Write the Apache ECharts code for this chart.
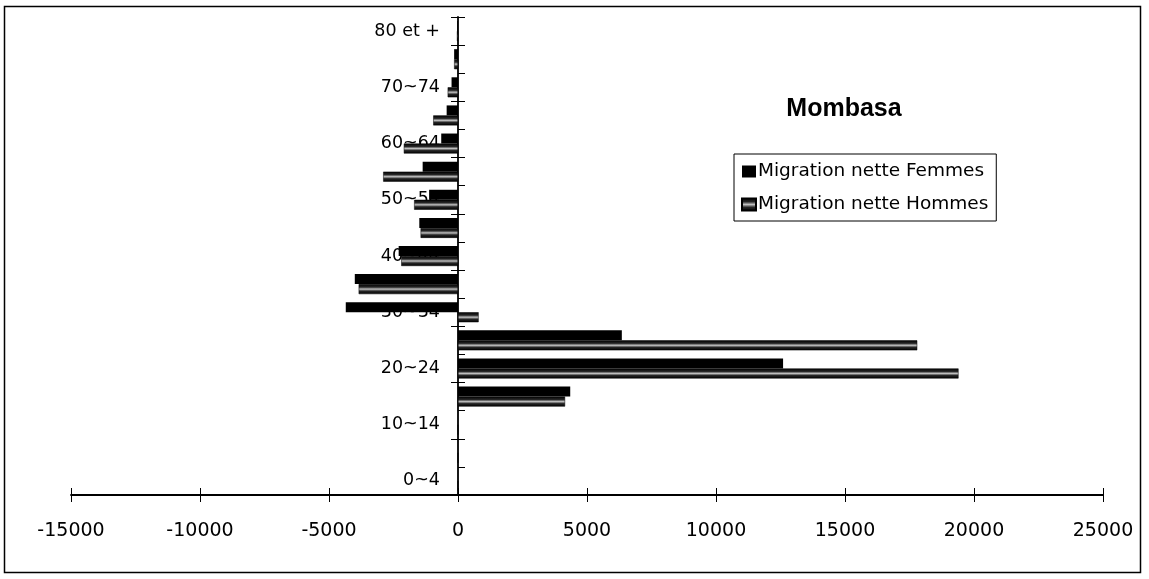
<!DOCTYPE html>
<html>
<head>
<meta charset="utf-8">
<script src="https://cdn.jsdelivr.net/npm/echarts@6/dist/echarts.min.js"></script>
<style>
  html, body { margin: 0; padding: 0; background: #fff; }
  #chart { width: 1149px; height: 579px; }
</style>
</head>
<body>
<div id="chart"></div>
<script>
// Age groups, bottom to top
const categories = ['0~4', '5~9', '10~14', '15~19', '20~24', '25~29', '30~34', '35~39',
  '40~44', '45~49', '50~54', '55~59', '60~64', '65~69', '70~74', '75~79', '80 et +'];
// Net migration by age group
const femmes = [0, 0, 0, 4350, 12600, 6350, -4350, -4000, -2300, -1500, -1120, -1370, -650, -440, -250, -150, -30];
const hommes = [0, 0, 0, 4150, 19400, 17800, 800, -3850, -2200, -1450, -1700, -2900, -2100, -960, -400, -150, -40];
const xTicks = { min: -15000, max: 25000, interval: 5000 };
const titleText = 'Mombasa';
const seriesNames = ['Migration nette Femmes', 'Migration nette Hommes'];

const FONT = 'DejaVu Sans';
const hommesFill = new echarts.graphic.LinearGradient(0, 0, 0, 1, [
  { offset: 0, color: '#000' },
  { offset: 0.3, color: '#262626' },
  { offset: 0.5, color: '#c0c0c0' },
  { offset: 0.7, color: '#262626' },
  { offset: 1, color: '#000' }
]);

// plot area in pixels
const G = { left: 71, right: 46, top: 17, bottom: 84 };
const plotW = 1149 - G.left - G.right;
const gridH = 579 - G.top - G.bottom;
// horizontal pixel distance from each side of the plot to the value 0
const zeroFromLeft = (0 - xTicks.min) / (xTicks.max - xTicks.min) * plotW;
const zeroFromRight = plotW - zeroFromLeft;

const chart = echarts.init(document.getElementById('chart'), null, { renderer: 'canvas' });

chart.setOption({
  backgroundColor: '#fff',
  animation: false,
  title: {
    text: titleText,
    left: 839, top: 92, textAlign: 'center',
    textStyle: { fontFamily: 'Liberation Sans', fontWeight: 'bold', fontSize: 25, color: '#000' }
  },
  legend: {
    orient: 'vertical',
    left: 734, top: 154,
    padding: [8, 8, 7, 7],
    itemGap: 14,
    itemWidth: 14, itemHeight: 12,
    borderColor: '#000', borderWidth: 1,
    backgroundColor: '#fff',
    icon: 'rect',
    data: seriesNames,
    textStyle: { fontFamily: FONT, fontSize: 18.5, color: '#000', padding: [0, 0, 0, -3] }
  },
  grid: Object.assign({ containLabel: false, outerBoundsMode: 'none' }, G),
  xAxis: [
    {
      type: 'value', position: 'bottom',
      min: xTicks.min, max: xTicks.max, interval: xTicks.interval,
      axisLine: { show: true, lineStyle: { color: '#000', width: 1.8 } },
      axisTick: { show: true, length: 7, lineStyle: { color: '#000' } },
      axisLabel: { margin: 27, fontFamily: FONT, fontSize: 19, color: '#000', formatter: v => String(v) },
      splitLine: { show: false }
    },
    {
      // upward half of the crossing ticks on the value axis
      type: 'value', position: 'top', offset: -gridH,
      min: xTicks.min, max: xTicks.max, interval: xTicks.interval,
      axisLine: { show: false },
      axisTick: { show: true, length: 7, lineStyle: { color: '#000' } },
      axisLabel: { show: false },
      splitLine: { show: false }
    }
  ],
  yAxis: [
    {
      type: 'category', data: categories, position: 'left', offset: -zeroFromLeft,
      axisLine: { show: true, onZero: false, lineStyle: { color: '#000', width: 1.8 } },
      axisTick: { show: true, length: 7, lineStyle: { color: '#000' } },
      axisLabel: { interval: 1, margin: 18, fontFamily: FONT, fontSize: 17.5, color: '#000' },
      splitLine: { show: false }
    },
    {
      // right half of the crossing ticks on the category axis
      type: 'category', data: categories, position: 'right', offset: -zeroFromRight,
      axisLine: { show: false, onZero: false },
      axisTick: { show: true, length: 7, lineStyle: { color: '#000' } },
      axisLabel: { show: false },
      splitLine: { show: false }
    }
  ],
  series: [
    {
      name: seriesNames[0], type: 'bar', data: femmes,
      xAxisIndex: 0, yAxisIndex: 0,
      barWidth: 10, barGap: '0%',
      itemStyle: { color: '#000' }
    },
    {
      name: seriesNames[1], type: 'bar', data: hommes,
      xAxisIndex: 0, yAxisIndex: 0,
      barWidth: 10, barGap: '0%',
      itemStyle: { color: hommesFill, borderColor: '#000', borderWidth: 0.5 }
    }
  ],
  graphic: [
    {
      type: 'rect', silent: true, z: 100,
      shape: { x: 4.5, y: 6.5, width: 1136, height: 566 },
      style: { fill: 'none', stroke: '#000', lineWidth: 1.5 }
    }
  ]
});
</script>
</body>
</html>
